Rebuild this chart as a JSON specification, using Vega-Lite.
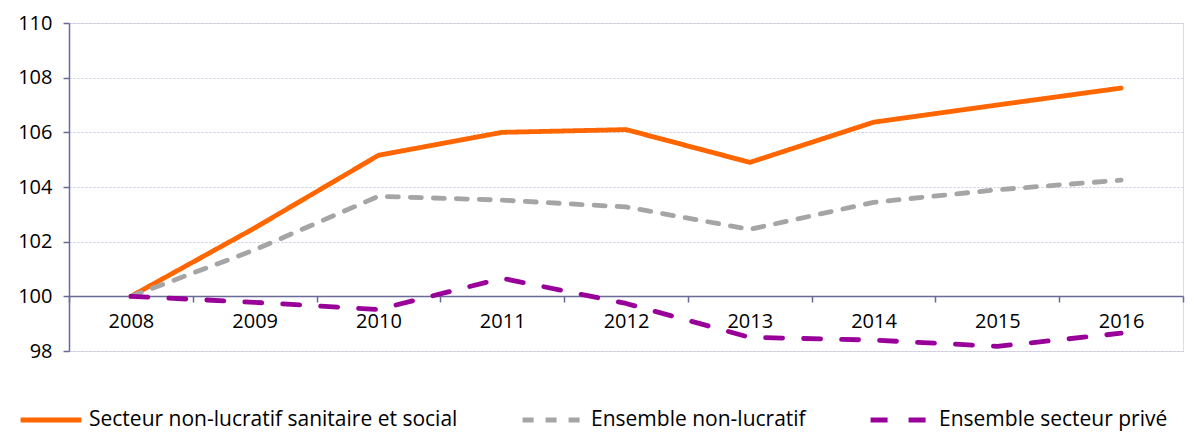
{
  "$schema": "https://vega.github.io/schema/vega-lite/v6.json",
  "width": 1114,
  "height": 328,
  "autosize": {"type": "none"},
  "padding": {"left": 69, "top": 23, "right": 12, "bottom": 81},
  "background": "white",
  "data": {
    "values": [
      {"year": "2008", "serie": "Secteur non-lucratif sanitaire et social", "v": 100},
      {"year": "2009", "serie": "Secteur non-lucratif sanitaire et social", "v": 102.5},
      {"year": "2010", "serie": "Secteur non-lucratif sanitaire et social", "v": 105.16},
      {"year": "2011", "serie": "Secteur non-lucratif sanitaire et social", "v": 106.0},
      {"year": "2012", "serie": "Secteur non-lucratif sanitaire et social", "v": 106.1},
      {"year": "2013", "serie": "Secteur non-lucratif sanitaire et social", "v": 104.9},
      {"year": "2014", "serie": "Secteur non-lucratif sanitaire et social", "v": 106.37},
      {"year": "2015", "serie": "Secteur non-lucratif sanitaire et social", "v": 107.0},
      {"year": "2016", "serie": "Secteur non-lucratif sanitaire et social", "v": 107.62},
      {"year": "2008", "serie": "Ensemble non-lucratif", "v": 100},
      {"year": "2009", "serie": "Ensemble non-lucratif", "v": 101.7},
      {"year": "2010", "serie": "Ensemble non-lucratif", "v": 103.66},
      {"year": "2011", "serie": "Ensemble non-lucratif", "v": 103.52},
      {"year": "2012", "serie": "Ensemble non-lucratif", "v": 103.27},
      {"year": "2013", "serie": "Ensemble non-lucratif", "v": 102.45},
      {"year": "2014", "serie": "Ensemble non-lucratif", "v": 103.44},
      {"year": "2015", "serie": "Ensemble non-lucratif", "v": 103.9},
      {"year": "2016", "serie": "Ensemble non-lucratif", "v": 104.25},
      {"year": "2008", "serie": "Ensemble secteur privé", "v": 100},
      {"year": "2009", "serie": "Ensemble secteur privé", "v": 99.78},
      {"year": "2010", "serie": "Ensemble secteur privé", "v": 99.52},
      {"year": "2011", "serie": "Ensemble secteur privé", "v": 100.66},
      {"year": "2012", "serie": "Ensemble secteur privé", "v": 99.74},
      {"year": "2013", "serie": "Ensemble secteur privé", "v": 98.5},
      {"year": "2014", "serie": "Ensemble secteur privé", "v": 98.4},
      {"year": "2015", "serie": "Ensemble secteur privé", "v": 98.17},
      {"year": "2016", "serie": "Ensemble secteur privé", "v": 98.65}
    ]
  },
  "mark": {"type": "line", "strokeWidth": 4.8, "strokeCap": "round", "strokeJoin": "round"},
  "encoding": {
    "x": {
      "field": "year",
      "type": "ordinal",
      "scale": {"type": "band", "paddingInner": 0, "paddingOuter": 0},
      "axis": {
        "title": null,
        "orient": "bottom",
        "offset": -55,
        "labelAngle": 0,
        "tickBand": "extent",
        "domainColor": "#6a6a96",
        "domainWidth": 1.5,
        "tickColor": "#6a6a96",
        "tickWidth": 1.5,
        "tickSize": 6,
        "labelPadding": 9,
        "labelFont": "Open Sans",
        "labelFontSize": 20,
        "labelColor": "#000000",
        "grid": false
      }
    },
    "y": {
      "field": "v",
      "type": "quantitative",
      "scale": {"domain": [98, 110], "nice": false, "zero": false},
      "axis": {
        "title": null,
        "values": [98, 100, 102, 104, 106, 108, 110],
        "domainColor": "#6a6a96",
        "domainWidth": 1.5,
        "tickColor": "#6a6a96",
        "tickWidth": 1.5,
        "tickSize": 6,
        "labelPadding": 11,
        "labelFont": "Open Sans",
        "labelFontSize": 20,
        "labelColor": "#000000",
        "grid": true,
        "gridColor": "#c8c8e0",
        "gridDash": [2, 2],
        "gridWidth": 1
      }
    },
    "color": {
      "field": "serie",
      "type": "nominal",
      "sort": ["Secteur non-lucratif sanitaire et social", "Ensemble non-lucratif", "Ensemble secteur privé"],
      "scale": {
        "domain": ["Secteur non-lucratif sanitaire et social", "Ensemble non-lucratif", "Ensemble secteur privé"],
        "range": ["#FF6600", "#A5A5A5", "#990099"]
      },
      "legend": {
        "title": null,
        "orient": "none",
        "direction": "horizontal",
        "legendX": -51,
        "legendY": 364,
        "symbolType": "stroke",
        "symbolSize": 3700,
        "symbolStrokeWidth": 4.8,
        "labelFont": "Open Sans",
        "labelFontSize": 21,
        "labelColor": "#000000",
        "labelOffset": 5,
        "columnPadding": 54,
        "labelLimit": 600
      }
    },
    "strokeDash": {
      "field": "serie",
      "type": "nominal",
      "sort": ["Secteur non-lucratif sanitaire et social", "Ensemble non-lucratif", "Ensemble secteur privé"],
      "scale": {
        "domain": ["Secteur non-lucratif sanitaire et social", "Ensemble non-lucratif", "Ensemble secteur privé"],
        "range": [[1, 0], [11, 12], [17, 21]]
      },
      "legend": null
    }
  }
}
